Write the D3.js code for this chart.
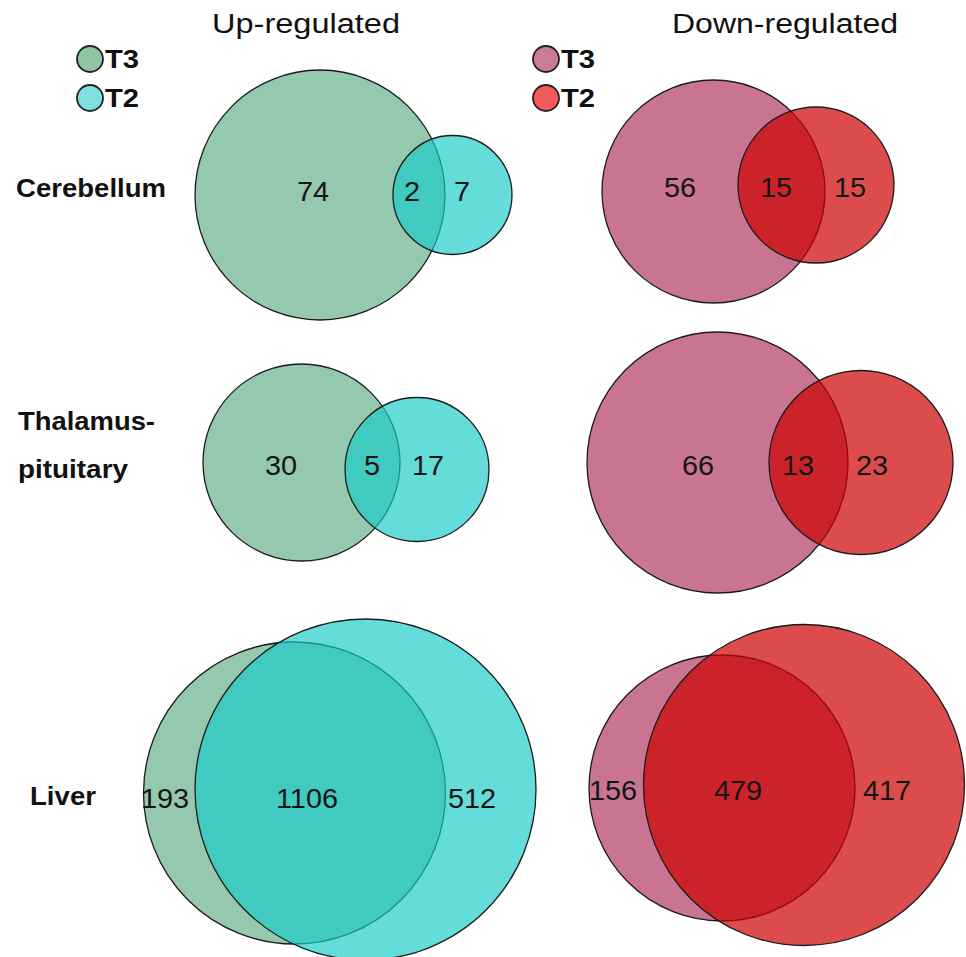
<!DOCTYPE html>
<html>
<head>
<meta charset="utf-8">
<script src="https://cdn.jsdelivr.net/npm/d3@7"></script>
<style>
  body { margin: 0; background: #fff; }
  text { font-family: "Liberation Sans", Arial, sans-serif; }
</style>
</head>
<body>
<div id="chart"></div>
<script>
// data
var tissues = ["Cerebellum", "Thalamus-pituitary", "Liver"];
var directions = ["Up-regulated", "Down-regulated"];
var setNames = ["T3", "T2"];

var upT3Only   = [74, 30, 193];
var upShared   = [2, 5, 1106];
var upT2Only   = [7, 17, 512];
var downT3Only = [56, 66, 156];
var downShared = [15, 13, 479];
var downT2Only = [15, 23, 417];

// layout of each venn (row = tissue, col = direction)
var geom = [
  [ {t3: [320, 195, 125], t2: [452.5, 195, 59.5], lx: [313, 412, 462], ly: 191},
    {t3: [713.5, 191.5, 111.5], t2: [816, 185, 78], lx: [680, 776, 850], ly: 187} ],
  [ {t3: [301.5, 462.5, 98.5], t2: [417, 469.5, 72], lx: [281, 372, 428], ly: 465},
    {t3: [717.5, 462.5, 130.5], t2: [861, 462.5, 92], lx: [698, 798, 872], ly: 465} ],
  [ {t3: [294.5, 793, 151], t2: [365.5, 789.5, 170.5], lx: [165, 307, 472], ly: 798},
    {t3: [722, 788, 133], t2: [804, 785, 160.5], lx: [613, 738, 887], ly: 790} ]
];

var fills = {
  up:   {T3: "#95c9ae", T2: "rgb(24,203,200)", legT3: "#8fc4a5", legT2: "#80dfe0"},
  down: {T3: "#c97592", T2: "rgb(205,0,0)",    legT3: "#c97b98", legT2: "#f45a5a"}
};

var svg = d3.select("#chart").append("svg")
    .attr("width", 966).attr("height", 957);

var panels = [];
tissues.forEach(function(t, i) {
  panels.push({tissue: t, dir: "up", g: geom[i][0],
               counts: [upT3Only[i], upShared[i], upT2Only[i]]});
  panels.push({tissue: t, dir: "down", g: geom[i][1],
               counts: [downT3Only[i], downShared[i], downT2Only[i]]});
});

var pg = svg.selectAll("g.panel")
    .data(panels)
    .enter().append("g")
    .attr("class", "panel");

pg.append("circle")
    .attr("cx", function(d) { return d.g.t3[0]; })
    .attr("cy", function(d) { return d.g.t3[1]; })
    .attr("r", function(d) { return d.g.t3[2]; })
    .attr("fill", function(d) { return fills[d.dir].T3; })
    .attr("stroke", "#1b1b1b").attr("stroke-width", 1.3);

pg.append("circle")
    .attr("cx", function(d) { return d.g.t2[0]; })
    .attr("cy", function(d) { return d.g.t2[1]; })
    .attr("r", function(d) { return d.g.t2[2]; })
    .attr("fill", function(d) { return fills[d.dir].T2; })
    .attr("fill-opacity", function(d) { return d.dir == "up" ? 0.67 : 0.7; })
    .attr("stroke", "#1b1b1b").attr("stroke-width", 1.3);

pg.selectAll("text.count")
    .data(function(d) {
      return d.counts.map(function(c, k) { return {v: c, x: d.g.lx[k], y: d.g.ly}; });
    })
    .enter().append("text")
    .attr("class", "count")
    .attr("transform", function(d) { return "translate(" + d.x + "," + d.y + ") scale(1.07,1)"; })
    .attr("text-anchor", "middle")
    .attr("dy", "0.36em")
    .attr("font-size", 27)
    .attr("fill", "#151515")
    .text(function(d) { return d.v; });

// column titles
svg.selectAll("text.title")
    .data(directions)
    .enter().append("text")
    .attr("class", "title")
    .attr("x", function(d, i) { return i == 0 ? 212 : 672; })
    .attr("y", 33)
    .attr("font-size", 27)
    .attr("fill", "#111")
    .attr("textLength", function(d, i) { return i == 0 ? 188 : 226; })
    .attr("lengthAdjust", "spacingAndGlyphs")
    .text(function(d) { return d; });

// row labels
var rowLabels = [
  {lines: ["Cerebellum"], x: 16, y: [197], w: [150]},
  {lines: ["Thalamus-", "pituitary"], x: 18, y: [430, 478], w: [137, 110]},
  {lines: ["Liver"], x: 30, y: [805], w: [66]}
];
rowLabels.forEach(function(r, i) {
  svg.selectAll("text.row" + i)
      .data(r.lines)
      .enter().append("text")
      .attr("class", "row" + i)
      .attr("x", r.x)
      .attr("y", function(d, k) { return r.y[k]; })
      .attr("font-size", 26)
      .attr("font-weight", "bold")
      .attr("fill", "#111")
      .attr("textLength", function(d, k) { return r.w[k]; })
      .attr("lengthAdjust", "spacingAndGlyphs")
      .text(function(d) { return d; });
});

// legends
var legendX = {up: 90, down: 546};
["up", "down"].forEach(function(dir) {
  var lg = svg.append("g");
  lg.selectAll("circle")
      .data(setNames)
      .enter().append("circle")
      .attr("cx", legendX[dir])
      .attr("cy", function(d, i) { return 59 + i * 39; })
      .attr("r", 13)
      .attr("fill", function(d) { return fills[dir]["leg" + d]; })
      .attr("stroke", "#222").attr("stroke-width", 1.8);
  lg.selectAll("text")
      .data(setNames)
      .enter().append("text")
      .attr("x", legendX[dir] + 15)
      .attr("y", function(d, i) { return 68 + i * 39; })
      .attr("font-size", 25)
      .attr("font-weight", "bold")
      .attr("fill", "#111")
      .attr("textLength", 34)
      .attr("lengthAdjust", "spacingAndGlyphs")
      .text(function(d) { return d; });
});
</script>
</body>
</html>
